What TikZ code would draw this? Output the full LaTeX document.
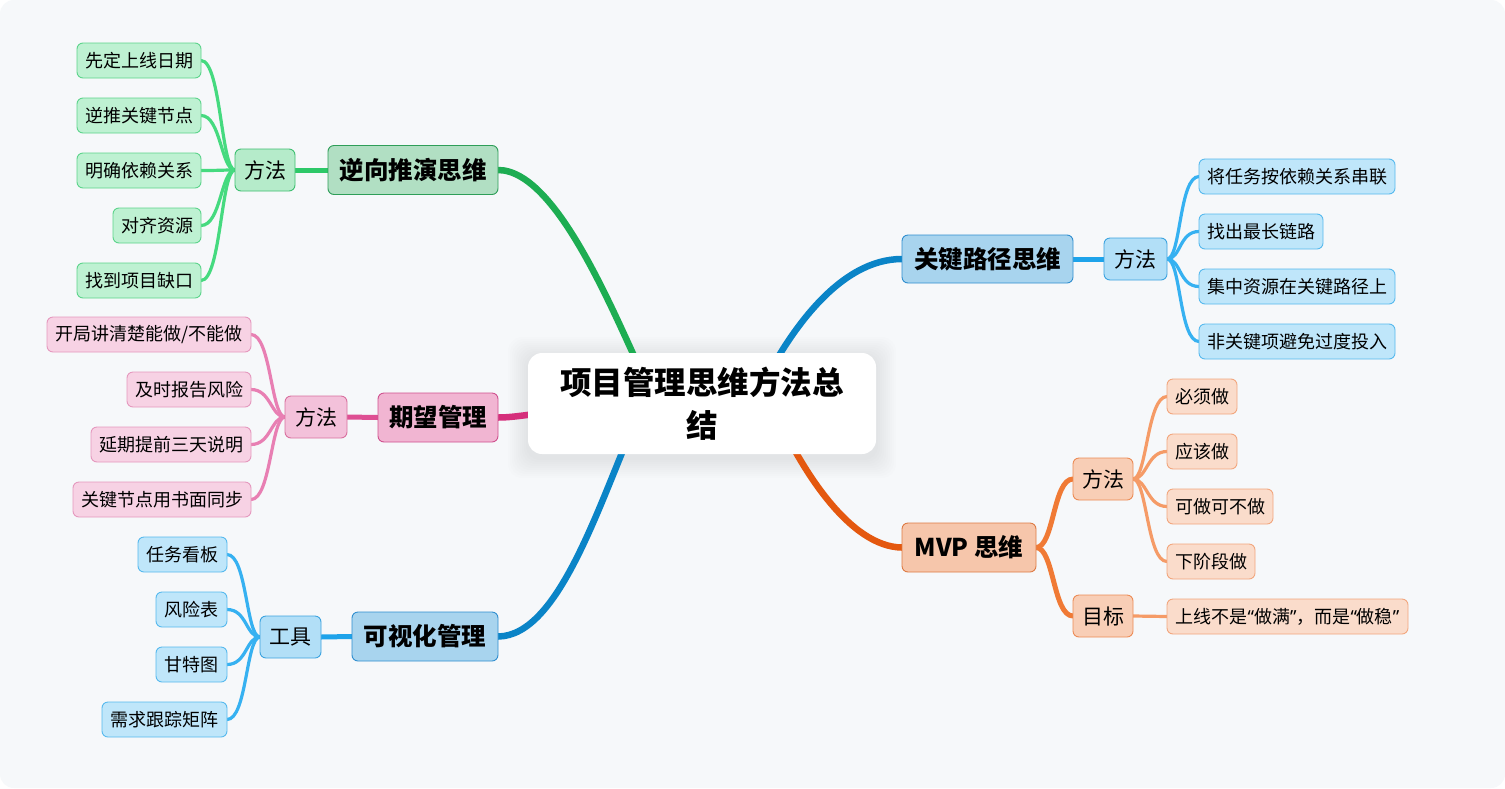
\documentclass[tikz,border=0pt]{standalone}
\usepackage{fontspec}
\setmainfont{Noto Sans CJK SC}
\newfontfamily\latinq{Noto Sans}
\usetikzlibrary{calc}
\pgfdeclarelayer{bgl}
\pgfdeclarelayer{edges}
\pgfsetlayers{bgl,edges,main}
% colours
\definecolor{bgc}{HTML}{F6F8FA}
% green
\definecolor{gMain}{HTML}{1DAD52}
\definecolor{gMidL}{HTML}{2DC868}
\definecolor{gLeafL}{HTML}{45DA7F}
\definecolor{gTF}{HTML}{B1DFC3}\definecolor{gTB}{HTML}{2E9E58}
\definecolor{gMF}{HTML}{B5EBCA}\definecolor{gMB}{HTML}{3EBF70}
\definecolor{gLF}{HTML}{BEF1D2}\definecolor{gLB}{HTML}{5CD48B}
% pink
\definecolor{pMain}{HTML}{D52E7B}
\definecolor{pMidL}{HTML}{DE4F93}
\definecolor{pLeafL}{HTML}{E87FB3}
\definecolor{pTF}{HTML}{F1B5D2}\definecolor{pTB}{HTML}{CF508E}
\definecolor{pMF}{HTML}{F3C1DA}\definecolor{pMB}{HTML}{D9709F}
\definecolor{pLF}{HTML}{F7D2E4}\definecolor{pLB}{HTML}{E598BE}
% blue
\definecolor{bMain}{HTML}{0A84C7}
\definecolor{bMidL}{HTML}{1EA3EA}
\definecolor{bLeafL}{HTML}{36B1F1}
\definecolor{bTF}{HTML}{A8D4EE}\definecolor{bTB}{HTML}{2F8ECF}
\definecolor{bMF}{HTML}{B2DFF7}\definecolor{bMB}{HTML}{3BA3E0}
\definecolor{bLF}{HTML}{BFE6FA}\definecolor{bLB}{HTML}{56B9EE}
% orange
\definecolor{oMain}{HTML}{E4580F}
\definecolor{oMidL}{HTML}{F07A35}
\definecolor{oLeafL}{HTML}{F59B67}
\definecolor{oTF}{HTML}{F6C6AB}\definecolor{oTB}{HTML}{DD7A43}
\definecolor{oMF}{HTML}{F8CEB6}\definecolor{oMB}{HTML}{EC8B55}
\definecolor{oLF}{HTML}{FADCCB}\definecolor{oLB}{HTML}{F2A67D}
\tikzset{
  every node/.style={inner sep=0pt, outer sep=0pt},
  box/.style={draw, rounded corners=6pt, line width=0.9pt, align=center, text=black},
  leaf/.style={box, minimum height=35pt, font=\fontsize{18}{21}\selectfont},
  mid/.style={box, minimum height=42pt, minimum width=61pt, font=\fontsize{21}{25}\selectfont},
  topic/.style={box, minimum height=49pt, font=\bfseries\fontsize{24.5}{29}\selectfont},
  leafG/.style={leaf, fill=gLF, draw=gLB}, midG/.style={mid, fill=gMF, draw=gMB}, topicG/.style={topic, fill=gTF, draw=gTB},
  leafP/.style={leaf, fill=pLF, draw=pLB}, midP/.style={mid, fill=pMF, draw=pMB}, topicP/.style={topic, fill=pTF, draw=pTB},
  leafB/.style={leaf, fill=bLF, draw=bLB}, midB/.style={mid, fill=bMF, draw=bMB}, topicB/.style={topic, fill=bTF, draw=bTB},
  leafO/.style={leaf, fill=oLF, draw=oLB}, midO/.style={mid, fill=oMF, draw=oMB}, topicO/.style={topic, fill=oTF, draw=oTB},
  mainE/.style={line width=6.5pt, line cap=round},
  midE/.style={line width=5pt, line cap=round},
  leafE/.style={line width=3.2pt, line cap=round},
}
\begin{document}
\begin{tikzpicture}[x=1pt, y=-1pt]
\useasboundingbox (0,0) rectangle (1505,788);
% ---------- nodes ----------
\node[box, draw=none, fill=white, rounded corners=14pt, minimum width=348pt, minimum height=101pt,
      font=\bfseries\fontsize{31.5}{43}\selectfont] (C) at (702,403.5) {项目管理思维方法总\\结};
% green branch
\node[topicG, minimum width=170pt] (gT) at (413,170) {逆向推演思维};
\node[midG, minimum width=60pt] (gM) at (265,170) {方法};
\node[leafG, minimum width=124pt] (g1) at (139,60.5) {先定上线日期};
\node[leafG, minimum width=124pt] (g2) at (139,115.5) {逆推关键节点};
\node[leafG, minimum width=124pt] (g3) at (139,170.5) {明确依赖关系};
\node[leafG, minimum width=88pt] (g4) at (157,225.5) {对齐资源};
\node[leafG, minimum width=124pt] (g5) at (139,280.5) {找到项目缺口};
% pink branch
\node[topicP, minimum width=120pt] (pT) at (438,417.5) {期望管理};
\node[midP, minimum width=62pt] (pM) at (316,417) {方法};
\node[leafP, minimum width=204pt] (p1) at (149,334.5) {开局讲清楚能做/不能做};
\node[leafP, minimum width=124pt] (p2) at (189,389.5) {及时报告风险};
\node[leafP, minimum width=160pt] (p3) at (171,444.5) {延期提前三天说明};
\node[leafP, minimum width=178pt] (p4) at (162,499.5) {关键节点用书面同步};
% blue left branch
\node[topicB, minimum width=146pt] (vT) at (425,636.5) {可视化管理};
\node[midB, minimum width=61pt] (vM) at (290.5,637) {工具};
\node[leafB, minimum width=89pt] (v1) at (182.5,554.5) {任务看板};
\node[leafB, minimum width=71pt] (v2) at (191.5,609.5) {风险表};
\node[leafB, minimum width=71pt] (v3) at (191.5,664.5) {甘特图};
\node[leafB, minimum width=125pt] (v4) at (164.5,719.5) {需求跟踪矩阵};
% blue right branch
\node[topicB, minimum width=171pt, minimum height=48pt] (kT) at (987.5,259) {关键路径思维};
\node[midB, minimum width=63pt] (kM) at (1135.5,259) {方法};
\node[leafB, minimum width=196pt] (k1) at (1297,176.5) {将任务按依赖关系串联};
\node[leafB, minimum width=124pt] (k2) at (1261,231.5) {找出最长链路};
\node[leafB, minimum width=196pt] (k3) at (1297,286.5) {集中资源在关键路径上};
\node[leafB, minimum width=196pt] (k4) at (1297,341.5) {非关键项避免过度投入};
% orange branch
\node[topicO, minimum width=134pt] (mT) at (969,547.5) {MVP 思维};
\node[midO, minimum width=60pt] (mM) at (1103,479) {方法};
\node[midO, minimum width=60pt] (mG) at (1103,616) {目标};
\node[leafO, minimum width=70pt] (m1) at (1202,396.5) {必须做};
\node[leafO, minimum width=70pt] (m2) at (1202,451.5) {应该做};
\node[leafO, minimum width=106pt] (m3) at (1220,506.5) {可做可不做};
\node[leafO, minimum width=88pt] (m4) at (1211,561.5) {下阶段做};
\node[leafO, minimum width=241pt] (m5) at (1287.5,616.5) {上线不是{\latinq“}做满{\latinq”}，而是{\latinq“}做稳{\latinq”}};
% anchor points inside the centre node
\coordinate (cG) at (650,390);
\coordinate (cP) at (560,412);
\coordinate (cV) at (640,410);
\coordinate (cK) at (760,390);
\coordinate (cM) at (770,400);
% ---------- background ----------
\begin{pgfonlayer}{bgl}
  \fill[white] (0,0) rectangle (1505,788);
  \fill[bgc, rounded corners=14pt] (0,0) rectangle (1505,788);
  \foreach \s in {2,4,...,20} {
    \fill[black, opacity=0.008, rounded corners=14pt]
      ($(C.north west)+(-\s,-\s+4)$) rectangle ($(C.south east)+(\s,\s+4)$);
  }
\end{pgfonlayer}
% ---------- connectors ----------
\begin{pgfonlayer}{edges}
  % main branches
  \draw[mainE, gMain] (gT.east) .. controls (560,170) and (620,330) .. (cG);
  \draw[mainE, pMain] (pT.east) .. controls +(20,0) and +(-20,0) .. (cP);
  \draw[mainE, bMain] (vT.east) .. controls (560,636) and (600,500) .. (cV);
  \draw[mainE, bMain] (kT.west) .. controls (840,259) and (790,330) .. (cK);
  \draw[mainE, oMain] (mT.west) .. controls (850,547) and (800,470) .. (cM);
  % topic to sub topic
  \draw[midE, gMidL] (gT.west) -- (gM.east);
  \draw[midE, pMidL] (pT.west) -- (pM.east);
  \draw[midE, bMidL] (vT.west) -- (vM.east);
  \draw[midE, bMidL] (kT.east) -- (kM.west);
  \draw[midE, oMidL] (mT.east) .. controls +(18,0) and +(-20,0) .. (mM.west);
  \draw[midE, oMidL] (mT.east) .. controls +(18,0) and +(-20,0) .. (mG.west);
  % leaves
  \foreach \n in {g1,g2,g3,g4,g5}
    \draw[leafE, gLeafL] (gM.west) .. controls +(-14,0) and +(20,0) .. (\n.east);
  \foreach \n in {p1,p2,p3,p4}
    \draw[leafE, pLeafL] (pM.west) .. controls +(-14,0) and +(20,0) .. (\n.east);
  \foreach \n in {v1,v2,v3,v4}
    \draw[leafE, bLeafL] (vM.west) .. controls +(-14,0) and +(20,0) .. (\n.east);
  \foreach \n in {k1,k2,k3,k4}
    \draw[leafE, bLeafL] (kM.east) .. controls +(14,0) and +(-20,0) .. (\n.west);
  \foreach \n in {m1,m2,m3,m4}
    \draw[leafE, oLeafL] (mM.east) .. controls +(14,0) and +(-20,0) .. (\n.west);
  \draw[leafE, oLeafL] (mG.east) -- (m5.west);
\end{pgfonlayer}
\end{tikzpicture}
\end{document}
